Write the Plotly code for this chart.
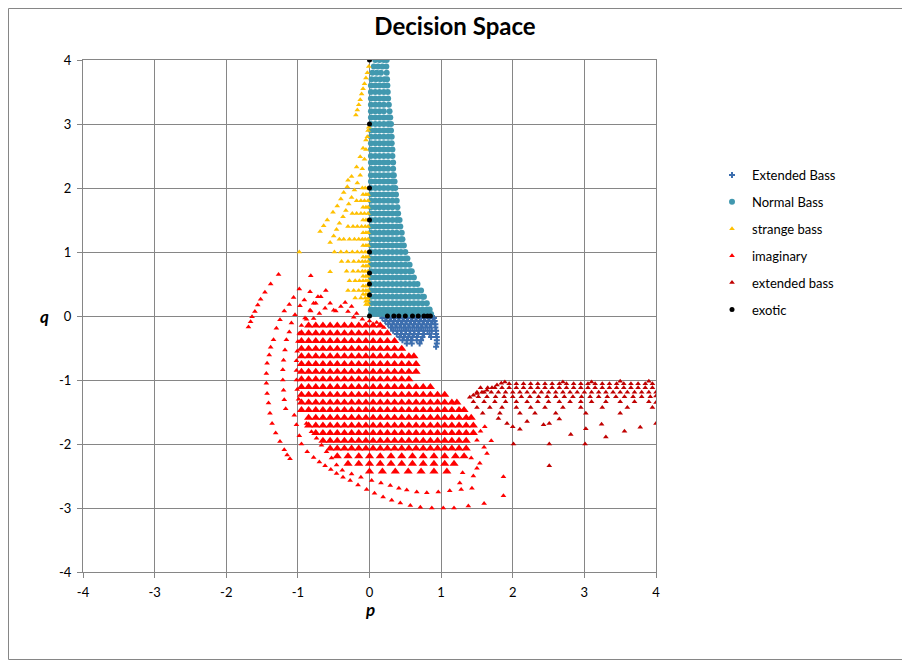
import plotly.graph_objects as go

# values, in (p, q) units

# Extended Bass: the small fan just under q = 0
ext_bass_q = [-0.03, -0.08, -0.13, -0.18, -0.23, -0.28, -0.33, -0.38, -0.43, -0.48]
ext_bass_p = [
    [0.18, 0.24, 0.30, 0.36, 0.42, 0.48, 0.54, 0.60, 0.66, 0.72, 0.78, 0.84, 0.90],
    [0.22, 0.28, 0.34, 0.40, 0.46, 0.52, 0.58, 0.64, 0.70, 0.76, 0.82, 0.88, 0.91],
    [0.26, 0.32, 0.38, 0.44, 0.50, 0.56, 0.62, 0.68, 0.74, 0.80, 0.86, 0.92],
    [0.30, 0.36, 0.42, 0.48, 0.54, 0.60, 0.66, 0.72, 0.78, 0.84, 0.92],
    [0.33, 0.39, 0.45, 0.51, 0.57, 0.63, 0.69, 0.75, 0.81, 0.87, 0.93],
    [0.38, 0.44, 0.50, 0.56, 0.62, 0.68, 0.76, 0.84, 0.93],
    [0.42, 0.48, 0.54, 0.60, 0.66, 0.74, 0.86, 0.94],
    [0.46, 0.52, 0.58, 0.66, 0.72, 0.94],
    [0.52, 0.59, 0.70, 0.94],
    [0.93],
]

# Normal Bass: the tall teal wedge right of p = 0
normal_q = [4.0, 3.9, 3.8, 3.7, 3.6, 3.5, 3.4, 3.3, 3.2, 3.1, 3.0, 2.9, 2.8, 2.7,
            2.6, 2.5, 2.4, 2.3, 2.2, 2.1, 2.0, 1.9, 1.8, 1.7, 1.6, 1.5, 1.4, 1.3,
            1.2, 1.1, 1.0, 0.9, 0.8, 0.7, 0.6, 0.5, 0.4, 0.3, 0.2, 0.1, 0.03]
normal_p = [
    [0.08, 0.14, 0.20, 0.24],
    [0.06, 0.12, 0.18, 0.235],
    [0.04, 0.10, 0.16, 0.24],
    [0.03, 0.09, 0.15, 0.21, 0.245],
    [0.02, 0.08, 0.14, 0.20, 0.25],
    [0.02, 0.08, 0.14, 0.20, 0.255],
    [0.02, 0.08, 0.14, 0.20, 0.26],
    [0.02, 0.08, 0.14, 0.20, 0.27],
    [0.02, 0.08, 0.14, 0.20, 0.28],
    [0.02, 0.08, 0.14, 0.20, 0.26, 0.29],
    [0.02, 0.08, 0.14, 0.20, 0.26, 0.30],
    [0.02, 0.08, 0.14, 0.20, 0.26, 0.30],
    [0.02, 0.08, 0.14, 0.20, 0.26, 0.31],
    [0.02, 0.08, 0.14, 0.20, 0.26, 0.31],
    [0.02, 0.08, 0.14, 0.20, 0.26, 0.32],
    [0.02, 0.08, 0.14, 0.20, 0.26, 0.32],
    [0.02, 0.08, 0.14, 0.20, 0.26, 0.33],
    [0.02, 0.08, 0.14, 0.20, 0.26, 0.33],
    [0.02, 0.08, 0.14, 0.20, 0.26, 0.32, 0.34],
    [0.02, 0.08, 0.14, 0.20, 0.26, 0.32, 0.35],
    [0.02, 0.08, 0.14, 0.20, 0.26, 0.32, 0.36],
    [0.02, 0.08, 0.14, 0.20, 0.26, 0.32, 0.37],
    [0.02, 0.08, 0.14, 0.20, 0.26, 0.32, 0.38],
    [0.02, 0.08, 0.14, 0.20, 0.26, 0.32, 0.39],
    [0.02, 0.08, 0.14, 0.20, 0.26, 0.32, 0.38, 0.40],
    [0.02, 0.08, 0.14, 0.20, 0.26, 0.32, 0.38, 0.42],
    [0.02, 0.08, 0.14, 0.20, 0.26, 0.32, 0.38, 0.43],
    [0.02, 0.08, 0.14, 0.20, 0.26, 0.32, 0.38, 0.45],
    [0.02, 0.08, 0.14, 0.20, 0.26, 0.32, 0.38, 0.44, 0.46],
    [0.02, 0.08, 0.14, 0.20, 0.26, 0.32, 0.38, 0.44, 0.48],
    [0.02, 0.08, 0.14, 0.20, 0.26, 0.32, 0.38, 0.44, 0.50],
    [0.02, 0.08, 0.14, 0.20, 0.26, 0.32, 0.38, 0.44, 0.50, 0.53],
    [0.02, 0.08, 0.14, 0.20, 0.26, 0.32, 0.38, 0.44, 0.50, 0.56],
    [0.02, 0.08, 0.14, 0.20, 0.26, 0.32, 0.38, 0.44, 0.50, 0.56, 0.59],
    [0.02, 0.08, 0.14, 0.20, 0.26, 0.32, 0.38, 0.44, 0.50, 0.56, 0.62],
    [0.02, 0.08, 0.14, 0.20, 0.26, 0.32, 0.38, 0.44, 0.50, 0.56, 0.62, 0.67],
    [0.02, 0.08, 0.14, 0.20, 0.26, 0.32, 0.38, 0.44, 0.50, 0.56, 0.62, 0.68, 0.72],
    [0.02, 0.08, 0.14, 0.20, 0.26, 0.32, 0.38, 0.44, 0.50, 0.56, 0.62, 0.68, 0.74, 0.76],
    [0.02, 0.08, 0.14, 0.20, 0.26, 0.32, 0.38, 0.44, 0.50, 0.56, 0.62, 0.68, 0.74, 0.80],
    [0.02, 0.08, 0.14, 0.20, 0.26, 0.32, 0.38, 0.44, 0.50, 0.56, 0.62, 0.68, 0.74, 0.80, 0.84],
    [0.02, 0.08, 0.14, 0.20, 0.26, 0.32, 0.38, 0.44, 0.50, 0.56, 0.62, 0.68, 0.74, 0.80, 0.86],
]

# strange bass: streaks and cluster left of p = 0
strange_streaks = [
    (-0.19, 3.14), (-0.17, 3.22), (-0.15, 3.30), (-0.13, 3.38), (-0.11, 3.47),
    (-0.09, 3.55), (-0.07, 3.63), (-0.05, 3.72), (-0.03, 3.80), (-0.01, 3.90),
    (-0.69, 1.32), (-0.64, 1.41), (-0.59, 1.50), (-0.51, 1.62), (-0.45, 1.72),
    (-0.40, 1.83), (-0.36, 1.93), (-0.31, 2.02), (-0.25, 2.18), (-0.18, 2.33),
    (-0.13, 2.49), (-0.09, 2.62), (-0.05, 2.75), (-0.02, 2.90),
    (-0.55, 1.15), (-0.50, 1.25), (-0.46, 1.35), (-0.42, 1.45), (-0.37, 1.55),
    (-0.33, 1.65), (-0.29, 1.75), (-0.25, 1.85), (-0.21, 1.97), (-0.17, 2.08),
    (-0.13, 2.20), (-0.10, 2.30), (-0.07, 2.45), (-0.05, 2.60), (-0.03, 2.80),
    (-0.01, 2.95), (-0.30, 2.12), (-0.98, 1.00), (-0.55, 0.69),
]
strange_q = [2.0, 1.9, 1.8, 1.7, 1.6, 1.5, 1.4, 1.3, 1.2, 1.1, 1.0, 0.92, 0.85,
             0.78, 0.7, 0.62, 0.55, 0.47, 0.4, 0.34, 0.28, 0.23, 0.18]
strange_p = [
    [-0.02, -0.06, -0.10],
    [-0.02, -0.05, -0.09],
    [-0.02, -0.07, -0.12, -0.18],
    [-0.02, -0.05, -0.09],
    [-0.02, -0.07, -0.12, -0.18, -0.24],
    [-0.02, -0.05, -0.09],
    [-0.02, -0.06, -0.11, -0.17, -0.23, -0.30],
    [-0.02, -0.05, -0.09],
    [-0.02, -0.06, -0.10, -0.15, -0.21, -0.28, -0.36, -0.42],
    [-0.02, -0.05, -0.09],
    [-0.02, -0.06, -0.11, -0.17, -0.24, -0.32, -0.40, -0.49],
    [-0.02, -0.05, -0.09],
    [-0.02, -0.06, -0.10, -0.15, -0.22, -0.30, -0.39],
    [-0.02, -0.05, -0.09],
    [-0.02, -0.06, -0.10, -0.16, -0.23, -0.32],
    [-0.02, -0.05, -0.09],
    [-0.02, -0.05, -0.09, -0.14, -0.20, -0.28],
    [-0.02, -0.05, -0.09],
    [-0.02, -0.05, -0.09, -0.15, -0.22, -0.30],
    [-0.02, -0.05, -0.09],
    [-0.02, -0.06, -0.12, -0.20],
    [-0.02, -0.05],
    [-0.02, -0.05],
]

# imaginary: sparse outer arcs
imag_arcs = [
    (-1.27, 0.65), (-1.38, 0.50), (-1.46, 0.37), (-1.52, 0.26), (-1.56, 0.17),
    (-1.60, 0.07), (-1.64, -0.01), (-1.66, -0.09), (-1.69, -0.17),
    (-0.98, 0.42), (-1.06, 0.29), (-1.12, 0.18), (-1.19, 0.08), (-1.25, -0.06),
    (-1.30, -0.19), (-1.34, -0.37), (-1.38, -0.49), (-1.40, -0.61), (-1.43, -0.74),
    (-1.44, -0.90), (-1.44, -1.05), (-1.43, -1.21), (-1.41, -1.36), (-1.39, -1.52),
    (-1.36, -1.68), (-1.31, -1.83), (-1.25, -1.96), (-1.19, -2.09), (-1.15, -2.17),
    (-1.11, -2.23),
    (-0.83, 0.38), (-0.91, 0.25), (-0.97, 0.16), (-1.04, 0.02), (-1.09, -0.11),
    (-1.12, -0.25), (-1.16, -0.37), (-1.18, -0.53), (-1.20, -0.69), (-1.21, -0.84),
    (-1.21, -1.00), (-1.20, -1.16), (-1.19, -1.31), (-1.17, -1.45),
    (-0.72, 0.30), (-0.78, 0.20), (-0.83, 0.09), (-0.90, -0.03), (-0.95, -0.15),
    (-0.98, -0.27), (-1.00, -0.40), (-1.01, -0.55), (-1.02, -0.70), (-1.02, -0.85),
    (-1.02, -1.00), (-1.01, -1.15), (-0.99, -1.30), (-0.95, -1.47), (-0.88, -1.68),
    (-0.81, -1.81), (-0.74, -1.91), (-0.67, -2.02), (-0.60, -2.12), (-0.53, -2.22),
    (-0.46, -2.33), (-0.38, -2.41), (-0.25, -2.47), (-0.12, -2.52), (0.03, -2.57),
    (0.16, -2.61), (0.29, -2.65), (0.41, -2.69), (0.52, -2.72), (0.66, -2.75),
    (0.80, -2.76), (0.96, -2.75), (1.12, -2.73), (1.28, -2.71), (1.43, -2.69),
    (-1.05, -1.55), (-1.02, -1.70), (-0.98, -1.87), (-0.95, -2.00), (-0.87, -2.12),
    (-0.78, -2.21), (-0.70, -2.28), (-0.62, -2.34), (-0.54, -2.40), (-0.46, -2.46),
    (-0.37, -2.52), (-0.27, -2.57), (-0.16, -2.64), (-0.04, -2.71), (0.07, -2.77),
    (0.19, -2.83), (0.31, -2.88), (0.43, -2.92), (0.57, -2.96), (0.71, -2.99),
    (0.87, -3.00), (1.03, -3.00), (1.18, -3.00), (1.38, -2.97),
    (-0.82, 0.63), (-0.61, 0.40), (-0.68, 0.30), (-0.75, 0.20), (-0.82, 0.08),
    (-0.88, -0.05), (-0.55, 0.20), (-0.62, 0.12), (-0.70, 0.04), (-0.78, -0.04),
    (-0.34, 0.21), (-0.40, 0.15), (-0.47, 0.08), (-0.25, 0.15), (-0.30, 0.07),
    (-0.18, 0.04), (-0.22, -0.02), (-0.10, -0.05), (0.00, -0.08), (0.10, -0.10),
    (0.20, -0.18), (-0.50, 0.09),
    (1.55, -1.80), (1.61, -1.73), (1.50, -1.94), (1.64, -2.15), (1.54, -2.30),
    (1.26, -2.61), (1.60, -2.93), (1.87, -2.81), (1.87, -2.51), (1.45, -2.50),
    (1.70, -1.95), (1.60, -2.05), (1.42, -2.22), (1.50, -2.38), (1.30, -2.45),
]

# imaginary: the dense core, row by row
imag_core_q = [-0.15, -0.27, -0.39, -0.51, -0.63, -0.75, -0.87, -0.99, -1.11, -1.23,
               -1.35, -1.47, -1.59, -1.71, -1.83, -1.95, -2.07, -2.19, -2.31, -2.43]
imag_core_p = [
    [-0.85, -0.75, -0.65, -0.55, -0.45, -0.35, -0.25, -0.15, -0.05, 0.05, 0.15],
    [-0.95, -0.85, -0.75, -0.65, -0.55, -0.45, -0.35, -0.25, -0.15, -0.05, 0.05, 0.15, 0.25],
    [-0.95, -0.85, -0.75, -0.65, -0.55, -0.45, -0.35, -0.25, -0.15, -0.05, 0.05, 0.15, 0.25, 0.35],
    [-0.95, -0.85, -0.75, -0.65, -0.55, -0.45, -0.35, -0.25, -0.15, -0.05, 0.05, 0.15, 0.25, 0.35,
     0.45],
    [-0.95, -0.85, -0.75, -0.65, -0.55, -0.45, -0.35, -0.25, -0.15, -0.05, 0.05, 0.15, 0.25, 0.35,
     0.45, 0.55, 0.62],
    [-0.95, -0.85, -0.75, -0.65, -0.55, -0.45, -0.35, -0.25, -0.15, -0.05, 0.05, 0.15, 0.25, 0.35,
     0.45, 0.55, 0.65],
    [-0.95, -0.85, -0.75, -0.65, -0.55, -0.45, -0.35, -0.25, -0.15, -0.05, 0.05, 0.15, 0.25, 0.35,
     0.45, 0.55, 0.65],
    [-0.95, -0.85, -0.75, -0.65, -0.55, -0.45, -0.35, -0.25, -0.15, -0.05, 0.05, 0.15, 0.25, 0.35,
     0.45, 0.55],
    [-0.95, -0.85, -0.75, -0.65, -0.55, -0.45, -0.35, -0.25, -0.15, -0.05, 0.05, 0.15, 0.25, 0.35,
     0.45, 0.55, 0.65, 0.75, 0.85],
    [-0.95, -0.85, -0.75, -0.65, -0.55, -0.45, -0.35, -0.25, -0.15, -0.05, 0.05, 0.15, 0.25, 0.35,
     0.45, 0.55, 0.65, 0.75, 0.85, 0.95, 1.05],
    [-0.95, -0.85, -0.75, -0.65, -0.55, -0.45, -0.35, -0.25, -0.15, -0.05, 0.05, 0.15, 0.25, 0.35,
     0.45, 0.55, 0.65, 0.75, 0.85, 0.95, 1.05, 1.15, 1.22],
    [-0.95, -0.85, -0.75, -0.65, -0.55, -0.45, -0.35, -0.25, -0.15, -0.05, 0.05, 0.15, 0.25, 0.35,
     0.45, 0.55, 0.65, 0.75, 0.85, 0.95, 1.05, 1.15, 1.25, 1.32],
    [-0.85, -0.75, -0.65, -0.55, -0.45, -0.35, -0.25, -0.15, -0.05, 0.05, 0.15, 0.25, 0.35,
     0.45, 0.55, 0.65, 0.75, 0.85, 0.95, 1.05, 1.15, 1.25, 1.35, 1.42],
    [-0.85, -0.75, -0.65, -0.55, -0.45, -0.35, -0.25, -0.15, -0.05, 0.05, 0.15, 0.25, 0.35,
     0.45, 0.55, 0.65, 0.75, 0.85, 0.95, 1.05, 1.15, 1.25, 1.35, 1.45],
    [-0.75, -0.65, -0.55, -0.45, -0.35, -0.25, -0.15, -0.05, 0.05, 0.15, 0.25, 0.35,
     0.45, 0.55, 0.65, 0.75, 0.85, 0.95, 1.05, 1.15, 1.25, 1.35, 1.45],
    [-0.65, -0.55, -0.45, -0.35, -0.25, -0.15, -0.05, 0.05, 0.15, 0.25, 0.35,
     0.45, 0.55, 0.65, 0.75, 0.85, 0.95, 1.05, 1.15, 1.25, 1.35],
    [-0.55, -0.45, -0.35, -0.25, -0.15, -0.05, 0.05, 0.15, 0.25, 0.35,
     0.45, 0.55, 0.65, 0.75, 0.85, 0.95, 1.05, 1.15, 1.25, 1.35],
    [-0.45, -0.30, -0.15, 0.00, 0.15, 0.30, 0.45, 0.60, 0.75, 0.90, 1.05, 1.20, 1.32],
    [-0.30, -0.15, 0.00, 0.15, 0.30, 0.45, 0.60, 0.75, 0.90, 1.05, 1.18],
    [0.00, 0.18, 0.36, 0.54, 0.72, 0.90, 1.08],
]

# extended bass: the dark red band to the right
ext_band_q = [-1.06, -1.12, -1.19, -1.26, -1.34, -1.43, -1.52]
ext_band_p = [
    [1.95, 2.05, 2.15, 2.25, 2.35, 2.45, 2.55, 2.65, 2.75, 2.85, 2.95, 3.05, 3.15, 3.25,
     3.35, 3.45, 3.55, 3.65, 3.75, 3.85, 3.95],
    [1.55, 1.65, 1.75, 1.85, 1.95, 2.05, 2.15, 2.25, 2.35, 2.45, 2.55, 2.65, 2.75, 2.85,
     2.95, 3.05, 3.15, 3.25, 3.35, 3.45, 3.55, 3.65, 3.75, 3.85, 3.95],
    [1.50, 1.60, 1.70, 1.80, 1.90, 2.00, 2.10, 2.20, 2.30, 2.40, 2.50, 2.60, 2.70, 2.80,
     2.90, 3.00, 3.10, 3.20, 3.30, 3.40, 3.50, 3.60, 3.70, 3.80, 3.90, 4.00],
    [1.52, 1.64, 1.76, 1.88, 2.00, 2.12, 2.24, 2.36, 2.48, 2.60, 2.72, 2.84, 2.96, 3.08,
     3.20, 3.32, 3.44, 3.56, 3.68, 3.80, 3.92],
    [1.45, 1.60, 1.75, 1.90, 2.05, 2.20, 2.35, 2.50, 2.65, 2.80, 2.95, 3.10, 3.30, 3.50,
     3.70, 3.90],
    [1.50, 1.68, 1.85, 2.05, 2.25, 2.45, 2.70, 2.95, 3.25, 3.60, 3.95],
    [1.58, 1.82, 2.10, 2.31, 2.60, 3.02, 3.50],
]
ext_band_extra = [
    (1.40, -1.27), (1.45, -1.24), (1.50, -1.21), (1.57, -1.19), (1.64, -1.16),
    (1.71, -1.12), (1.78, -1.08), (1.84, -1.05), (1.89, -1.03), (2.70, -1.03),
    (3.10, -1.03), (3.50, -1.02), (3.90, -1.02),
    (1.92, -1.68), (2.10, -1.77), (2.20, -1.65), (2.43, -1.70), (2.51, -1.68),
    (2.65, -1.61), (2.81, -1.85), (3.02, -1.76), (3.24, -1.69), (3.30, -1.89),
    (3.56, -1.80), (3.78, -1.74), (4.00, -1.68), (2.01, -2.00), (2.51, -2.00),
    (3.01, -2.00), (2.51, -2.34), (4.00, -1.35), (4.00, -1.25), (2.00, -1.73),
    (1.80, -1.60),
]

# exotic: single points on the two axes
exotic_p = [0, 0, 0, 0, 0, 0, 0, 0, 0, 0.25, 0.34, 0.41, 0.50, 0.60, 0.68, 0.76, 0.81, 0.85]
exotic_q = [4, 3, 2, 1.5, 1, 0.67, 0.5, 0.33, 0, 0, 0, 0, 0, 0, 0, 0, 0, 0]

tick_vals = [-4, -3, -2, -1, 0, 1, 2, 3, 4]
tick_text = ["-4", "-3", "-2", "-1", "0", "1", "2", "3", "4"]


def from_rows(q_rows, p_rows):
    ps, qs = [], []
    for q, row in zip(q_rows, p_rows):
        for p in row:
            ps.append(p)
            qs.append(q)
    return ps, qs


def from_pairs(pairs):
    return [a for a, _ in pairs], [b for _, b in pairs]


FONT = "Lato, 'Noto Sans', sans-serif"
GRID = "#868686"

# the page body has an 8px margin, so the figure is a little smaller than the window
W, H = 902, 652
L, T, R, B = 75, 52, 254, 88
PW, PH = W - L - R, H - T - B

fig = go.Figure()

p, q = from_rows(ext_bass_q, ext_bass_p)
fig.add_trace(go.Scatter(x=p, y=q, mode="markers", name="Extended Bass", legendgroup="a",
                         marker=dict(symbol="cross", size=5, color="#3C6EAE")))

p, q = from_rows(normal_q, normal_p)
fig.add_trace(go.Scatter(x=p, y=q, mode="markers", name="Normal Bass", legendgroup="b",
                         marker=dict(symbol="circle", size=6, color="#4198AF")))

p1, q1 = from_pairs(strange_streaks)
p2, q2 = from_rows(strange_q, strange_p)
fig.add_trace(go.Scatter(x=p1 + p2, y=q1 + q2, mode="markers", name="strange bass",
                         legendgroup="c",
                         marker=dict(symbol="triangle-up", size=5, color="#FFC000")))

p, q = from_pairs(imag_arcs)
fig.add_trace(go.Scatter(x=p, y=q, mode="markers", name="imaginary", legendgroup="d",
                         marker=dict(symbol="triangle-up", size=5, color="#FF0000")))
p, q = from_rows(imag_core_q, imag_core_p)
fig.add_trace(go.Scatter(x=p, y=q, mode="markers", name="imaginary", legendgroup="d",
                         showlegend=False,
                         marker=dict(symbol="triangle-up", size=8, color="#FF0000")))

p1, q1 = from_rows(ext_band_q, ext_band_p)
p2, q2 = from_pairs(ext_band_extra)
fig.add_trace(go.Scatter(x=p1 + p2, y=q1 + q2, mode="markers", name="extended bass",
                         legendgroup="e",
                         marker=dict(symbol="triangle-up", size=5, color="#C00000")))

fig.add_trace(go.Scatter(x=exotic_p, y=exotic_q, mode="markers", name="exotic", legendgroup="f",
                         marker=dict(symbol="circle", size=5, color="#000000")))

axis_style = dict(range=[-4, 4], tickvals=tick_vals, ticktext=tick_text,
                  showgrid=True, gridcolor=GRID, gridwidth=1,
                  zeroline=True, zerolinecolor=GRID, zerolinewidth=1,
                  showline=True, linecolor=GRID, linewidth=1, mirror=True,
                  ticks="outside", ticklen=5, tickcolor=GRID,
                  tickfont=dict(family=FONT, size=13, color="#000000"))


def px_x(px):
    # page x (in the reference) -> paper x
    return (px - 8 - L) / PW


def px_y(py):
    # page y (in the reference) -> paper y
    return (H - B - (py - 8)) / PH


fig.update_layout(
    width=W, height=H,
    margin=dict(l=L, r=R, t=T, b=B),
    paper_bgcolor="white", plot_bgcolor="white",
    font=dict(family=FONT, color="#000000"),
    title=dict(text="<b>Decision Space</b>", x=(455 - 8) / W, xanchor="center",
               y=1 - (27 - 8) / H, yanchor="middle",
               font=dict(family=FONT, size=24, color="#000000")),
    xaxis=dict(axis_style, ticklabelstandoff=3),
    yaxis=dict(axis_style, ticklabelstandoff=3),
    showlegend=True,
    legend=dict(x=px_x(712), y=px_y(160), xanchor="left", yanchor="top",
                font=dict(family=FONT, size=13, color="#000000"),
                tracegroupgap=7, itemwidth=30, bgcolor="rgba(0,0,0,0)"),
    annotations=[
        dict(text="<b><i>p</i></b>", x=0, xref="x", y=px_y(622), yref="paper",
             showarrow=False, font=dict(family=FONT, size=17, color="#000000")),
        dict(text="<b><i>q</i></b>", x=px_x(38), xref="paper", y=0, yref="y",
             showarrow=False, font=dict(family=FONT, size=17, color="#000000")),
    ],
    shapes=[dict(type="rect", xref="paper", yref="paper",
                 x0=-(L - 0.5) / PW, x1=(W - L - 0.5) / PW,
                 y0=-(B - 0.5) / PH, y1=(PH + T - 0.5) / PH,
                 line=dict(color=GRID, width=1), layer="below")],
)

fig.write_html("out.html")
